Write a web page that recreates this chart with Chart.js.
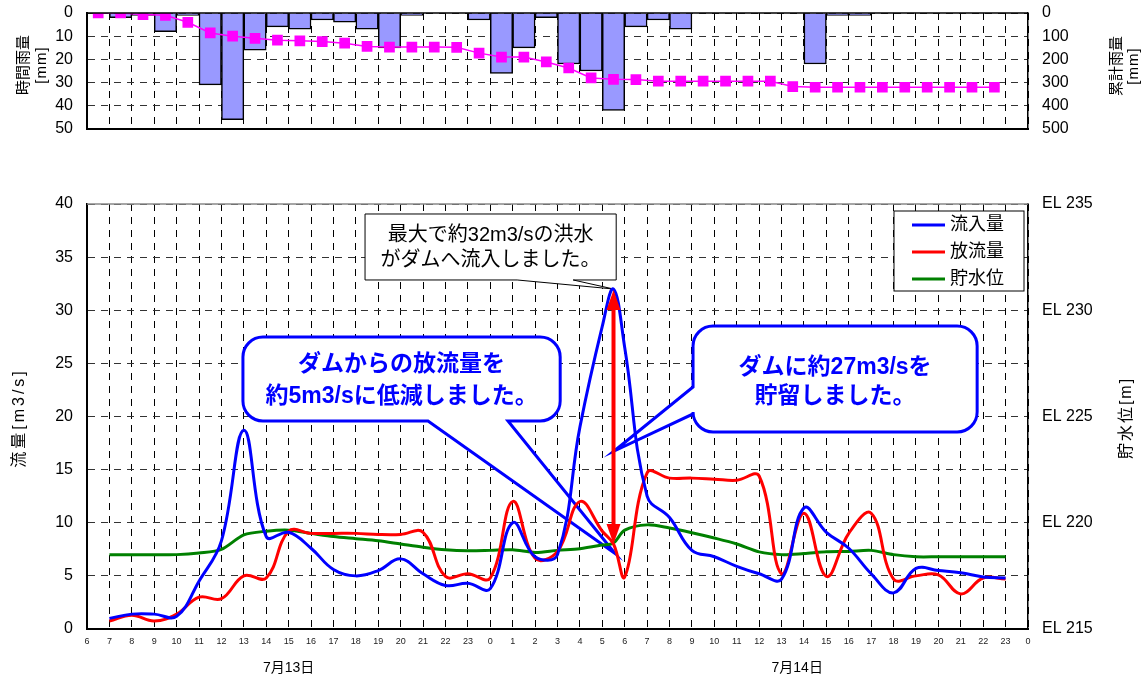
<!DOCTYPE html>
<html lang="ja">
<head>
<meta charset="utf-8">
<title>流入量・放流量・貯水位</title>
<script src="https://cdn.jsdelivr.net/npm/chart.js@4.4.1/dist/chart.umd.min.js"></script>
<style>
  html, body { margin: 0; padding: 0; background: #fff; }
  #wrap { position: relative; width: 1142px; height: 680px; overflow: hidden; }
  #rainChart { position: absolute; left: 0; top: 0; }
  #flowChart { position: absolute; left: 0; top: 150px; }
</style>
</head>
<body>
<div id="wrap">
  <canvas id="rainChart" width="1142" height="150"></canvas>
  <canvas id="flowChart" width="1142" height="530"></canvas>
</div>
<script>
// ── Data ─────────────────────────────────────────────────────────────────────
// hour ticks from 7/13 6:00 to 7/15 0:00
const xTickLabels = ['6','7','8','9','10','11','12','13','14','15','16','17','18','19','20','21','22','23',
                     '0','1','2','3','4','5','6','7','8','9','10','11','12','13','14','15','16','17','18','19','20','21','22','23','0'];

// one slot per hour (6-7, 7-8, ...)
const rainHourly = [0, 2, 1, 8, 1, 31, 46, 16, 6, 7, 3, 4, 7, 15, 1, 0, 0, 3, 26, 15, 2,
                    22, 25, 42, 6, 3, 7, 0, 0, 0, 0, 0, 22, 1, 1, 0, 0, 0, 0, 0, 0, 0];
const rainTotal  = [0, 0, 7, 10, 40, 86, 100, 109, 117, 120, 123, 130, 144, 147, 147, 147, 148, 173, 190, 190, 211,
                    237, 280, 286, 287, 294, 294, 294, 294, 294, 294, 317, 320, 320, 320, 320, 320, 320, 320, 320, 320, null];

// hour index along the axis (0 = 7/13 6:00)
const flowHours  = [1, 2, 3, 4, 5, 6, 7, 8, 9, 10, 11, 12, 13, 14, 15, 16, 17, 18, 19, 20, 21, 22, 23, 23.5,
                    24, 25, 26, 27, 28, 29, 30, 31, 32, 33, 34, 35, 36, 37, 38, 39, 40, 41];
const inflow     = [1.0, 1.4, 1.4, 1.2, 4.5, 8.3, 18.7, 8.7, 9.1, 7.6, 5.6, 5.0, 5.5, 6.6, 5.2, 4.1, 4.3, 3.8, 10.0, 6.8, 7.0, 19.0, 28.5, 32.0,
                    26.5, 12.5, 10.5, 7.4, 6.8, 5.9, 5.2, 4.7, 11.4, 9.1, 7.6, 5.2, 3.4, 5.7, 5.5, 5.3, 4.9, 4.8];
const outflow    = [0.75, 1.3, 0.75, 1.4, 3.0, 2.85, 5.0, 4.8, 9.2, 9.0, 9.0, 9.0, 8.9, 8.9, 9.1, 4.95, 5.2, 4.8, 12.0, 6.65, 7.3, 12.0, 9.2, 8.0,
                    4.9, 14.7, 14.2, 14.2, 14.1, 14.0, 14.4, 5.2, 10.9, 4.95, 9.0, 10.9, 4.7, 5.0, 5.1, 3.3, 4.8, 4.7];
const waterLevel = [218.5, 218.5, 218.5, 218.5, 218.58, 218.75, 219.43, 219.6, 219.65, 219.5, 219.35, 219.25, 219.15, 219.0, 218.85, 218.73, 218.68, 218.7, 218.73, 218.6, 218.7, 218.78, 218.95, 219.05,
                    219.65, 219.9, 219.75, 219.53, 219.28, 219.0, 218.63, 218.5, 218.55, 218.63, 218.65, 218.7, 218.5, 218.4, 218.4, 218.4, 218.4, 218.4];

const seriesNames = ['流入量', '放流量', '貯水位'];
const dateLabels  = ['7月13日', '7月14日'];

// ── Styling ──────────────────────────────────────────────────────────────────
const FONT = '"Liberation Sans", "Noto Sans CJK JP", sans-serif';
const colors = {
    inflow:  '#0000ff',
    outflow: '#ff0000',
    level:   '#008000',
    bar:     '#9999ff',
    total:   '#ff00ff',
    grid:    '#000000'
};
const dash = [7, 6];
const PLOT_LEFT = 87, RIGHT_AXIS = 114;
// invisible tick marks keep the label gap without the extra padding ticks.padding adds
const gapTicks = { drawTicks: true, tickLength: 11, tickColor: 'rgba(0,0,0,0)' };

Chart.defaults.font.family = FONT;
Chart.defaults.color = '#000';

function vText(ctx, text, x, y, font, spacing) {
    ctx.save();
    ctx.translate(x, y);
    ctx.rotate(-Math.PI / 2);
    ctx.font = font;
    if (spacing) ctx.letterSpacing = spacing;
    ctx.textAlign = 'center';
    ctx.textBaseline = 'middle';
    ctx.fillText(text, 0, 0);
    ctx.restore();
}

function topLine(ctx, area, color) {
    ctx.save();
    ctx.strokeStyle = color;
    ctx.lineWidth = 1.5;
    ctx.beginPath();
    ctx.moveTo(area.left, area.top);
    ctx.lineTo(area.right, area.top);
    ctx.stroke();
    ctx.restore();
}

// ── 1. Rainfall chart (top) ──────────────────────────────────────────────────
const rainDecor = {
    id: 'rainDecor',
    afterDraw(chart) {
        const ctx = chart.ctx;
        topLine(ctx, chart.chartArea, '#000');
        ctx.fillStyle = '#000';
        const f = '15px ' + FONT;
        vText(ctx, '時間雨量', 24, 65, f);
        vText(ctx, '[mm]', 42, 65, f, '1px');
        vText(ctx, '累計雨量', 1117, 66, f);
        vText(ctx, '[mm]', 1134, 66, f, '1px');
    }
};

new Chart(document.getElementById('rainChart'), {
    type: 'bar',
    data: {
        labels: xTickLabels.slice(0, 42),
        datasets: [{
            type: 'line',
            label: '累計雨量',
            data: rainTotal,
            yAxisID: 'y1',
            borderColor: colors.total,
            backgroundColor: colors.total,
            borderWidth: 1.5,
            pointStyle: 'rect',
            pointRadius: 6.5,
            tension: 0
        }, {
            label: '時間雨量',
            data: rainHourly,
            yAxisID: 'y',
            backgroundColor: colors.bar,
            borderColor: '#000',
            borderWidth: 1.5,
            barPercentage: 1,
            categoryPercentage: 1
        }]
    },
    options: {
        responsive: false,
        animation: false,
        layout: { padding: { left: 0, right: 0, top: 13, bottom: 21 } },
        plugins: { legend: { display: false }, tooltip: { enabled: false } },
        scales: {
            x: {
                grid: { color: colors.grid, drawTicks: false, offset: true },
                border: { display: true, color: '#000', width: 2, dash: dash },
                ticks: { display: false },
                afterFit(s) { s.height = 0; }
            },
            y: {
                position: 'left',
                reverse: true,
                min: 0, max: 50,
                ticks: { stepSize: 10, padding: 3, autoSkip: false, font: { size: 16 } },
                grid: { color: '#333', ...gapTicks },
                border: { display: true, color: '#000', width: 2, dash: dash },
                afterFit(s) { s.width = PLOT_LEFT; }
            },
            y1: {
                position: 'right',
                reverse: true,
                min: 0, max: 500,
                ticks: { stepSize: 100, padding: 3, autoSkip: false, font: { size: 16 } },
                grid: { display: false, ...gapTicks },
                border: { display: true, color: '#000', width: 1.5 },
                afterFit(s) { s.width = RIGHT_AXIS; }
            }
        }
    },
    plugins: [rainDecor]
});

// ── 2. Flow / water level chart (bottom) ─────────────────────────────────────
const notes = {
    peak:    { box: [12.41, 39.06, 23.62, 32.85], base: [19.2, 21.7], lines: ['最大で約32m3/sの洪水', 'がダムへ流入しました。'], textY: [37.08, 34.73] },
    release: { box: [6.96, 27.48, 21.12, 19.58], base: [15.22, 18.79], tip: [23.57, 7.1], lines: ['ダムからの放流量を', '約5m3/sに低減しました。'], textY: [24.85, 21.84] },
    store:   { box: [27.05, 28.52, 39.73, 18.54], base: [22.78, 20.24], tip: [23.53, 16.75], lines: ['ダムに約27m3/sを', '貯留しました。'], textY: [24.56, 21.84] }
};
const dateAt = [9, 31.7];

function calloutPath(ctx, l, t, r, b, rad, side, p1, p2, tx, ty) {
    ctx.beginPath();
    ctx.moveTo(l + rad, t);
    ctx.arcTo(r, t, r, b, rad);
    ctx.arcTo(r, b, l, b, rad);
    if (side === 'bottom') {
        ctx.lineTo(p2, b);
        ctx.lineTo(tx, ty);
        ctx.lineTo(p1, b);
    }
    ctx.arcTo(l, b, l, t, rad);
    if (side === 'left') {
        ctx.lineTo(l, p2);
        ctx.lineTo(tx, ty);
        ctx.lineTo(l, p1);
    }
    ctx.arcTo(l, t, r, t, rad);
    ctx.closePath();
}

const flowDecor = {
    id: 'flowDecor',
    beforeDatasetsDraw(chart) {
        const ctx = chart.ctx;
        const xs = chart.scales.x, ys = chart.scales.y;
        const X = v => xs.getPixelForValue(v), Y = v => ys.getPixelForValue(v);
        const peakIdx = inflow.indexOf(Math.max(...inflow));

        // black note at the peak
        let n = notes.peak;
        ctx.save();
        calloutPath(ctx, X(n.box[0]), Y(n.box[1]), X(n.box[2]), Y(n.box[3]), 0, 'bottom',
            X(n.base[0]), X(n.base[1]), X(flowHours[peakIdx]), Y(inflow[peakIdx]));
        ctx.fillStyle = '#fff';
        ctx.fill();
        ctx.strokeStyle = '#000';
        ctx.lineWidth = 1;
        ctx.stroke();
        ctx.fillStyle = '#000';
        ctx.font = '20px ' + FONT;
        ctx.textAlign = 'center';
        ctx.textBaseline = 'middle';
        const cx1 = (X(n.box[0]) + X(n.box[2])) / 2;
        n.lines.forEach((s, i) => ctx.fillText(s, cx1, Y(n.textY[i])));

        // blue rounded notes
        [['release', 'bottom'], ['store', 'left']].forEach(([key, side]) => {
            const c = notes[key];
            const p = side === 'bottom' ? c.base.map(X) : c.base.map(Y);
            calloutPath(ctx, X(c.box[0]), Y(c.box[1]), X(c.box[2]), Y(c.box[3]), 20, side,
                p[0], p[1], X(c.tip[0]), Y(c.tip[1]));
            ctx.fillStyle = '#fff';
            ctx.fill();
            ctx.strokeStyle = colors.inflow;
            ctx.lineWidth = 3;
            ctx.stroke();
            ctx.fillStyle = colors.inflow;
            ctx.font = 'bold 23px ' + FONT;
            const cx = (X(c.box[0]) + X(c.box[2])) / 2;
            c.lines.forEach((s, i) => ctx.fillText(s, cx, Y(c.textY[i])));
        });
        ctx.restore();
    },
    afterDatasetsDraw(chart) {
        const ctx = chart.ctx;
        const area = chart.chartArea;
        const xs = chart.scales.x, ys = chart.scales.y;
        topLine(ctx, area, '#888');

        // storage arrow: inflow peak down to outflow at the same time
        const k = inflow.indexOf(Math.max(...inflow));
        const ax = xs.getPixelForValue(flowHours[k]);
        const y1 = ys.getPixelForValue(inflow[k]) + 1;
        const y2 = ys.getPixelForValue(outflow[k]);
        const hl = 20, hw = 7;
        ctx.save();
        ctx.strokeStyle = colors.outflow;
        ctx.fillStyle = colors.outflow;
        ctx.lineWidth = 4;
        ctx.beginPath();
        ctx.moveTo(ax, y1 + hl - 2);
        ctx.lineTo(ax, y2 - hl + 2);
        ctx.stroke();
        ctx.beginPath();
        ctx.moveTo(ax, y1); ctx.lineTo(ax - hw, y1 + hl); ctx.lineTo(ax + hw, y1 + hl); ctx.closePath();
        ctx.fill();
        ctx.beginPath();
        ctx.moveTo(ax, y2); ctx.lineTo(ax - hw, y2 - hl); ctx.lineTo(ax + hw, y2 - hl); ctx.closePath();
        ctx.fill();

        // legend box
        const lx = area.right - 134, ly = area.top + 7, lw = 130, lh = 80;
        ctx.fillStyle = '#fff';
        ctx.fillRect(lx, ly, lw, lh);
        ctx.strokeStyle = '#000';
        ctx.lineWidth = 1;
        ctx.strokeRect(lx, ly, lw, lh);
        ctx.font = '18px ' + FONT;
        ctx.textAlign = 'left';
        ctx.textBaseline = 'middle';
        chart.data.datasets.forEach((ds, i) => {
            const yy = ly + 14 + i * 27;
            ctx.strokeStyle = ds.borderColor;
            ctx.lineWidth = 3;
            ctx.beginPath();
            ctx.moveTo(lx + 18, yy);
            ctx.lineTo(lx + 51, yy);
            ctx.stroke();
            ctx.fillStyle = '#000';
            ctx.fillText(ds.label, lx + 56, yy);
        });
        ctx.restore();
    },
    afterDraw(chart) {
        const ctx = chart.ctx;
        const xs = chart.scales.x;
        ctx.save();
        ctx.fillStyle = '#000';
        vText(ctx, '流量[m3/s]', 20, 268, '16px ' + FONT, '3px');
        vText(ctx, '貯水位[m]', 1127, 268, '16px ' + FONT, '2px');
        ctx.font = '14px ' + FONT;
        ctx.textAlign = 'center';
        ctx.textBaseline = 'middle';
        dateLabels.forEach((s, i) => ctx.fillText(s, xs.getPixelForValue(dateAt[i]), 518));
        ctx.restore();
    }
};

const pts = vals => flowHours.map((h, i) => ({ x: h, y: vals[i] }));

new Chart(document.getElementById('flowChart'), {
    type: 'line',
    data: {
        datasets: [{
            label: seriesNames[0],
            data: pts(inflow),
            yAxisID: 'y',
            borderColor: colors.inflow,
            borderWidth: 3,
            pointRadius: 0,
            tension: 0.4
        }, {
            label: seriesNames[1],
            data: pts(outflow),
            yAxisID: 'y',
            borderColor: colors.outflow,
            borderWidth: 3,
            pointRadius: 0,
            tension: 0.4
        }, {
            label: seriesNames[2],
            data: pts(waterLevel),
            yAxisID: 'y2',
            borderColor: colors.level,
            borderWidth: 3,
            pointRadius: 0,
            tension: 0.3
        }]
    },
    options: {
        responsive: false,
        animation: false,
        layout: { padding: { left: 0, right: 0, top: 54, bottom: 0 } },
        plugins: { legend: { display: false }, tooltip: { enabled: false } },
        scales: {
            x: {
                type: 'linear',
                min: 0, max: 42,
                ticks: {
                    stepSize: 1,
                    autoSkip: false,
                    maxRotation: 0,
                    padding: 7,
                    font: { size: 9 },
                    color: '#222',
                    callback: v => xTickLabels[Math.round(v)]
                },
                grid: { color: colors.grid, drawTicks: false },
                border: { display: true, color: '#000', width: 2, dash: dash },
                afterFit(s) { s.height = 51; }
            },
            y: {
                position: 'left',
                min: 0, max: 40,
                ticks: { stepSize: 5, padding: 3, autoSkip: false, font: { size: 16 } },
                grid: { color: '#333', ...gapTicks },
                border: { display: true, color: '#000', width: 2, dash: dash },
                afterFit(s) { s.width = PLOT_LEFT; }
            },
            y2: {
                position: 'right',
                min: 215, max: 235,
                ticks: { stepSize: 5, padding: 3, autoSkip: false, font: { size: 16 }, callback: v => 'EL ' + v },
                grid: { display: false, ...gapTicks },
                border: { display: true, color: '#000', width: 1.5 },
                afterFit(s) { s.width = RIGHT_AXIS; }
            }
        }
    },
    plugins: [flowDecor]
});
</script>
</body>
</html>
